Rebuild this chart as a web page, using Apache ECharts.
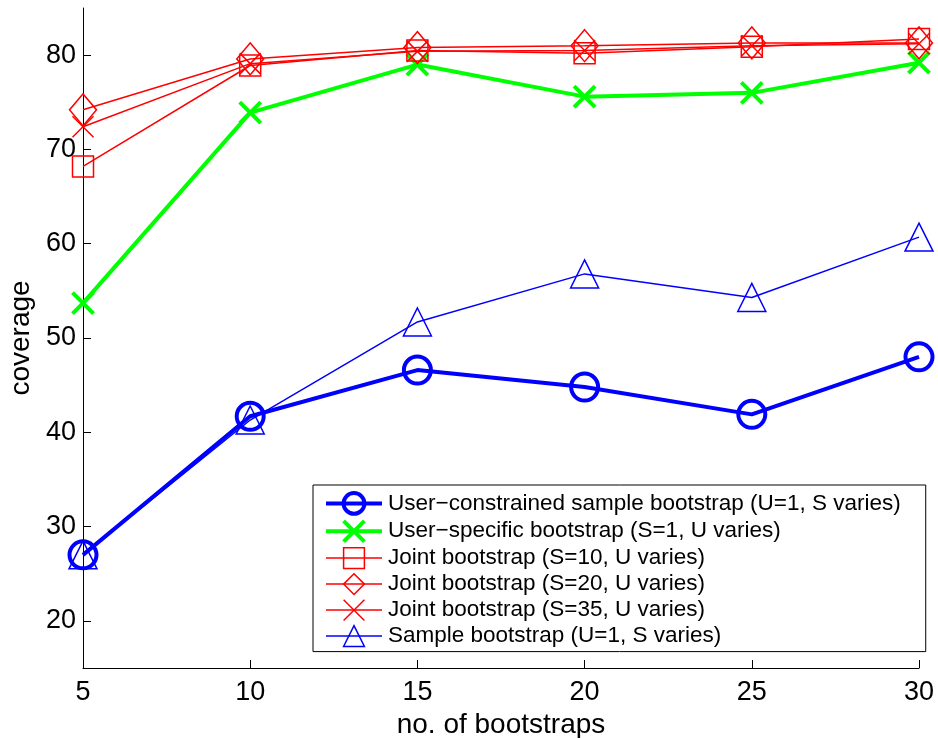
<!DOCTYPE html>
<html lang="en">
<head>
    <meta charset="utf-8">
    <title>coverage</title>
    <script src="https://cdn.jsdelivr.net/npm/echarts@6/dist/echarts.min.js"></script>
    <style>
        html, body { margin: 0; padding: 0; background: #fff; }
    </style>
</head>
<body>
<div id="chartLine" style="width:938px; height:738px;"></div>

<script>
    var bootstraps = [5, 10, 15, 20, 25, 30];
    var yTicks = [20, 30, 40, 50, 60, 70, 80];

    var userConstrained = [27.0, 41.7, 46.6, 44.8, 41.9, 48.0];
    var userSpecific = [53.7, 73.9, 79.0, 75.6, 76.0, 79.2];
    var jointS10 = [68.2, 78.9, 80.5, 80.2, 80.9, 81.7];
    var jointS20 = [74.2, 79.6, 80.8, 81.0, 81.3, 81.3];
    var jointS35 = [72.4, 79.1, 80.4, 80.5, 81.0, 81.2];
    var sampleBoot = [27.0, 41.3, 51.7, 56.8, 54.3, 60.7];

    var names = [
        'User\u2212constrained sample bootstrap (U=1, S varies)',
        'User\u2212specific bootstrap (S=1, U varies)',
        'Joint bootstrap (S=10, U varies)',
        'Joint bootstrap (S=20, U varies)',
        'Joint bootstrap (S=35, U varies)',
        'Sample bootstrap (U=1, S varies)'
    ];

    var crossPath = 'path://M0,0L10,10M10,0L0,10';

    function pairs(ys) {
        return bootstraps.map(function (x, i) { return [x, ys[i]]; });
    }

    function makeSeries(name, ys, color, width, symbol, size) {
        return {
            name: name,
            type: 'line',
            data: pairs(ys),
            color: color,
            symbol: symbol,
            symbolSize: size,
            showAllSymbol: true,
            lineStyle: { color: color, width: width },
            itemStyle: { color: 'rgba(0,0,0,0)', borderColor: color, borderWidth: width },
            emphasis: { disabled: true }
        };
    }

    var series = [
        makeSeries(names[0], userConstrained, '#0000ff', 4, 'circle', 27),
        makeSeries(names[1], userSpecific, '#00ff00', 4, crossPath, 21),
        makeSeries(names[2], jointS10, '#ff0000', 1.5, 'rect', 21),
        makeSeries(names[3], jointS20, '#ff0000', 1.5, 'diamond', [27, 32]),
        makeSeries(names[4], jointS35, '#ff0000', 1.5, crossPath, 21),
        makeSeries(names[5], sampleBoot, '#0000ff', 1.5, 'triangle', 28)
    ];

    var legendData = series.map(function (s) {
        return {
            name: s.name,
            itemStyle: { color: 'rgba(0,0,0,0)', borderColor: s.color, borderWidth: s.lineStyle.width },
            lineStyle: { color: s.color, width: s.lineStyle.width }
        };
    });

    var chartLine = echarts.init(document.getElementById('chartLine'));
    chartLine.setOption({
        animation: false,
        backgroundColor: '#fff',
        textStyle: { fontFamily: 'Liberation Sans, Arial, sans-serif', color: '#000' },
        grid: { left: 83, right: 19, top: 8, bottom: 70, containLabel: false, outerBoundsMode: 'none' },
        legend: {
            data: legendData,
            orient: 'vertical',
            left: 313,
            top: 485,
            itemWidth: 56,
            itemHeight: 26,
            itemGap: 3,
            padding: [6, 25, 4, 11],
            borderColor: '#000',
            borderWidth: 1,
            backgroundColor: '#fff',
            selectedMode: false,
            textStyle: { fontSize: 22.5, color: '#000', fontFamily: 'Liberation Sans, Arial, sans-serif', padding: [0, 0, 0, 1] }
        },
        xAxis: {
            type: 'value',
            min: 5,
            max: 30,
            interval: 5,
            name: 'no. of bootstraps',
            nameLocation: 'middle',
            nameGap: 31,
            nameTextStyle: { fontSize: 28, color: '#000' },
            axisLine: { show: true, lineStyle: { color: '#000', width: 1 } },
            axisTick: { show: true, inside: true, length: 8, lineStyle: { color: '#000' } },
            axisLabel: { fontSize: 27, color: '#000', margin: 11 },
            splitLine: { show: false }
        },
        yAxis: {
            type: 'value',
            min: 15,
            max: 85,
            name: 'coverage',
            nameLocation: 'middle',
            nameGap: 47,
            nameTextStyle: { fontSize: 28, color: '#000' },
            axisLine: { show: true, lineStyle: { color: '#000', width: 1 } },
            axisTick: { show: true, inside: true, length: 8, customValues: yTicks, lineStyle: { color: '#000' } },
            axisLabel: { fontSize: 27, color: '#000', margin: 7, customValues: yTicks },
            splitLine: { show: false }
        },
        series: series
    });
</script>
</body>
</html>
